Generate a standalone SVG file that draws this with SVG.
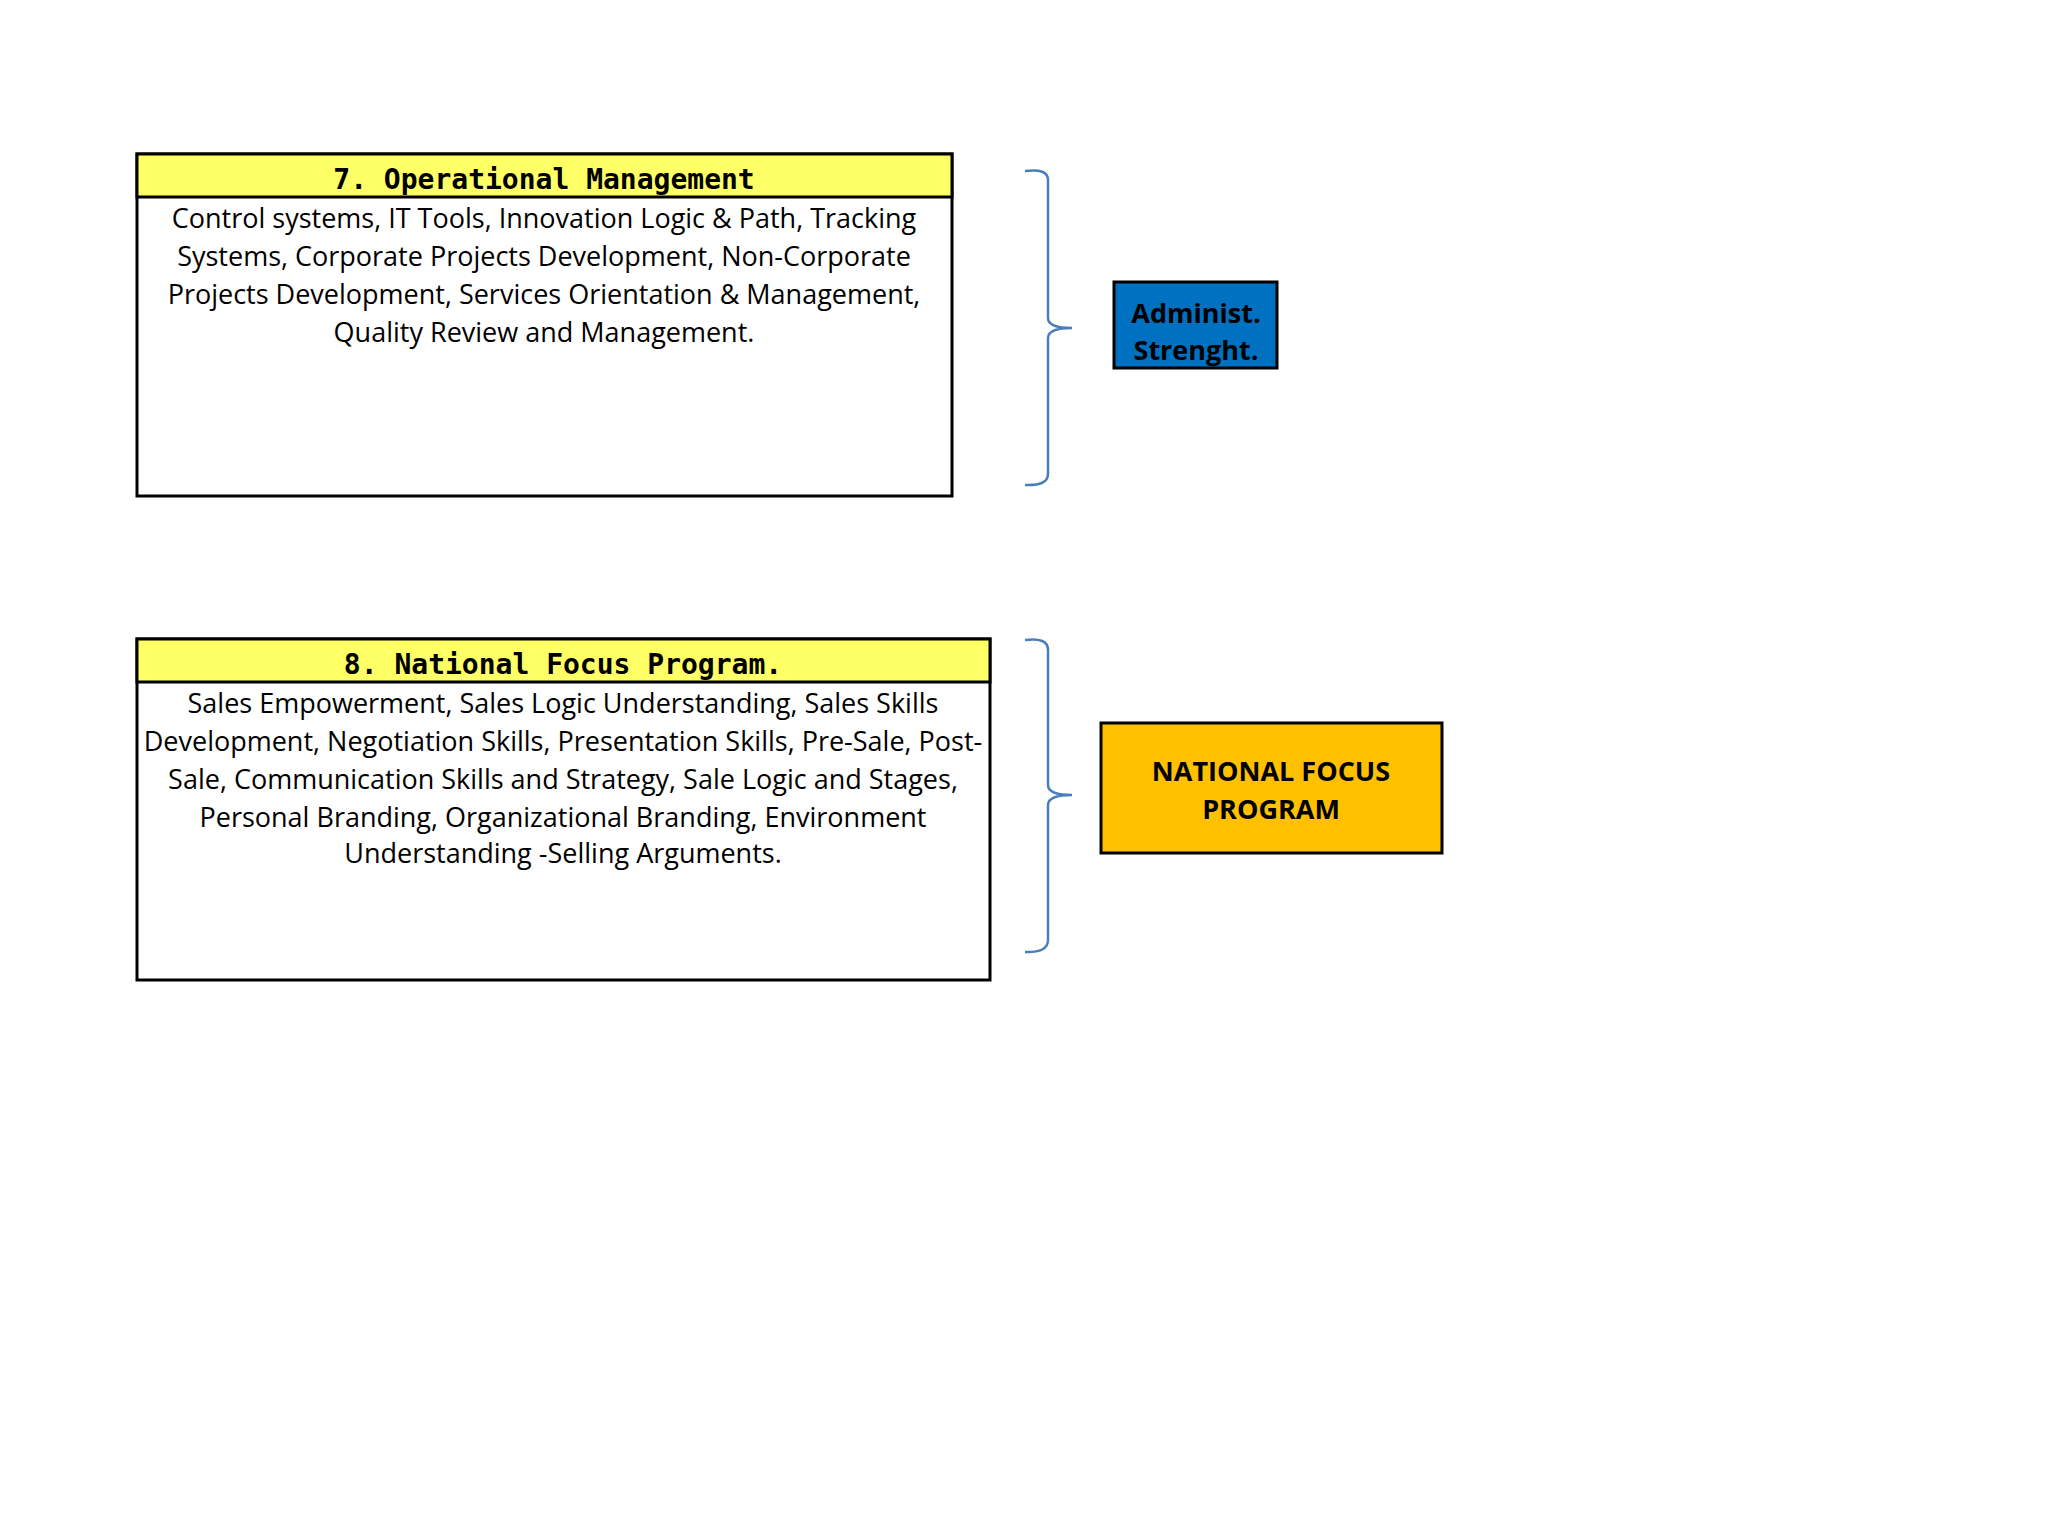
<svg xmlns="http://www.w3.org/2000/svg" width="2048" height="1536" viewBox="0 0 2048 1536">
<style>
.box{fill:#fff;stroke:#000;stroke-width:3}
.hdr{fill:#ffff66;stroke:#000;stroke-width:3}
.ht{font-family:"DejaVu Sans Mono",monospace;font-weight:bold;font-size:28px;text-anchor:middle}
.bt{font-family:"Open Sans","Liberation Sans",sans-serif;font-size:27px;text-anchor:middle}
.lt{font-family:"Open Sans","Liberation Sans",sans-serif;font-weight:bold;font-size:27px;text-anchor:middle}
.br{fill:none;stroke:#4a7ebb;stroke-width:2.5}
</style>
<rect width="2048" height="1536" fill="#fff"/>
<g id="node7">
<rect class="box" x="137" y="154" width="815" height="342"/>
<rect class="hdr" x="137" y="154" width="815" height="43"/>
<text class="ht" x="544" y="189">7. Operational Management</text>
<text class="bt" x="544" y="228">Control systems, IT Tools, Innovation Logic &amp; Path,  Tracking</text>
<text class="bt" x="544" y="266">Systems, Corporate Projects Development, Non-Corporate</text>
<text class="bt" x="544" y="304">Projects Development, Services Orientation &amp; Management,</text>
<text class="bt" x="544" y="342">Quality Review and Management.</text>
</g>
<g id="node8">
<rect class="box" x="137" y="639" width="853" height="341"/>
<rect class="hdr" x="137" y="639" width="853" height="43"/>
<text class="ht" x="563" y="674">8. National Focus Program.</text>
<text class="bt" x="563" y="713">Sales Empowerment, Sales Logic Understanding, Sales Skills</text>
<text class="bt" x="563" y="751">Development, Negotiation Skills, Presentation Skills, Pre-Sale, Post-</text>
<text class="bt" x="563" y="789">Sale, Communication Skills and Strategy, Sale Logic and Stages,</text>
<text class="bt" x="563" y="827">Personal Branding, Organizational Branding, Environment</text>
<text class="bt" x="563" y="863">Understanding -Selling Arguments.</text>
</g>
<g id="admin">
<rect x="1114" y="282" width="163" height="86" fill="#0070c0" stroke="#000" stroke-width="3"/>
<text class="lt" x="1196" y="323">Administ.</text>
<text class="lt" x="1196" y="360">Strenght.</text>
</g>
<g id="nfp">
<rect x="1101" y="723" width="341" height="130" fill="#ffc000" stroke="#000" stroke-width="3"/>
<text class="lt" x="1271" y="781">NATIONAL FOCUS</text>
<text class="lt" x="1271" y="819">PROGRAM</text>
</g>
<g id="connectors">
<path class="br" d="M1025 171 Q1048 168 1048 180 L1048 318 Q1048 328 1072 328 Q1048 328 1048 338 L1048 474 Q1048 486 1025 485"/>
<path class="br" d="M1025 640 Q1048 637 1048 650 L1048 785 Q1048 795 1072 795 Q1048 795 1048 805 L1048 940 Q1048 953 1025 952"/>
</g>
</svg>
